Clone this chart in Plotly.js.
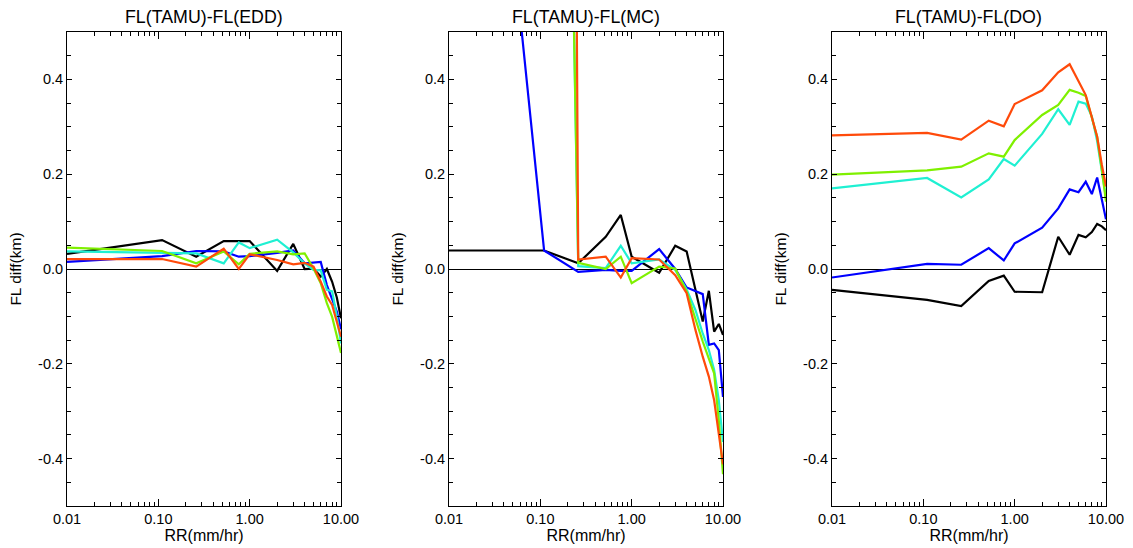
<!DOCTYPE html>
<html>
<head>
<meta charset="utf-8">
<script src="https://cdn.plot.ly/plotly-3.0.1.min.js"></script>
<style>html,body{margin:0;padding:0;background:#fff;}#chart{width:1133px;height:548px;}</style>
</head>
<body>
<div id="chart"></div>
<script>
// Rain rate bins (mm/hr)
const rr = [0.01, 0.11, 0.26, 0.52, 0.76, 1.0, 2.0, 3.0, 4.0, 5.0, 6.0, 7.0, 8.0, 9.0, 10.0];

const panelTitles = ['FL(TAMU)-FL(EDD)', 'FL(TAMU)-FL(MC)', 'FL(TAMU)-FL(DO)'];
const xTickVals = [0.01, 0.1, 1, 10];
const xTickText = ['0.01', '0.10', '1.00', '10.00'];
const xMinorVals = [0.02, 0.03, 0.04, 0.05, 0.06, 0.07, 0.08, 0.09,
                    0.2, 0.3, 0.4, 0.5, 0.6, 0.7, 0.8, 0.9,
                    2, 3, 4, 5, 6, 7, 8, 9];
const yTickVals = [-0.4, -0.2, 0, 0.2, 0.4];
const yTickText = ['-0.4', '-0.2', '0.0', '0.2', '0.4'];
const seriesColors = ['#000000', '#0000ff', '#1ff0d2', '#7ff000', '#ff4a0a'];

// Panel 1: FL(TAMU)-FL(EDD)
const edd_black  = [0.032, 0.061, 0.026, 0.059, 0.059, 0.059, -0.004, 0.053, 0.000, 0.001, -0.016, 0.000, -0.027, -0.060, -0.104];
const edd_blue   = [0.015, 0.027, 0.038, 0.037, 0.026, 0.027, 0.034, 0.039, 0.012, 0.013, 0.015, -0.034, -0.065, -0.090, -0.127];
const edd_cyan   = [0.037, 0.034, 0.033, 0.012, 0.056, 0.044, 0.062, 0.035, 0.012, -0.002, -0.003, -0.044, -0.047, -0.100, -0.157];
const edd_green  = [0.045, 0.038, 0.012, 0.037, 0.010, 0.032, 0.037, 0.031, 0.033, 0.001, -0.030, -0.072, -0.101, -0.140, -0.177];
const edd_orange = [0.021, 0.021, 0.005, 0.043, 0.000, 0.031, 0.019, 0.010, 0.013, 0.005, -0.027, -0.058, -0.076, -0.110, -0.143];

// Panel 2: FL(TAMU)-FL(MC)
const mc_black  = [0.039, 0.039, 0.012, 0.068, 0.114, 0.026, -0.008, 0.049, 0.037, -0.043, -0.111, -0.046, -0.132, -0.116, -0.139];
const mc_blue   = [2.0, 0.039, -0.006, -0.002, -0.004, -0.004, 0.042, 0.000, -0.039, -0.046, -0.053, -0.160, -0.157, -0.171, -0.270];
const mc_cyan   = [4.0, 4.0, 0.006, 0.002, 0.049, 0.012, 0.020, -0.002, -0.043, -0.087, -0.136, -0.171, -0.213, -0.277, -0.365];
const mc_green  = [4.0, 4.0, 0.013, 0.000, 0.026, -0.030, 0.005, 0.001, -0.048, -0.108, -0.153, -0.189, -0.220, -0.320, -0.433];
const mc_orange = [12.0, 12.0, 0.020, 0.026, -0.018, 0.023, 0.020, -0.013, -0.051, -0.129, -0.185, -0.227, -0.277, -0.347, -0.412];

// Panel 3: FL(TAMU)-FL(DO)
const do_black  = [-0.044, -0.065, -0.078, -0.025, -0.014, -0.048, -0.049, 0.068, 0.030, 0.072, 0.067, 0.078, 0.095, 0.090, 0.082];
const do_blue   = [-0.018, 0.011, 0.009, 0.044, 0.018, 0.054, 0.087, 0.128, 0.168, 0.162, 0.184, 0.158, 0.193, 0.150, 0.105];
const do_cyan   = [0.170, 0.192, 0.151, 0.189, 0.232, 0.218, 0.285, 0.337, 0.304, 0.353, 0.349, 0.322, 0.270, 0.210, 0.150];
const do_green  = [0.199, 0.208, 0.216, 0.244, 0.237, 0.272, 0.325, 0.346, 0.378, 0.372, 0.365, 0.320, 0.279, 0.210, 0.142];
const do_orange = [0.282, 0.287, 0.273, 0.313, 0.301, 0.348, 0.377, 0.415, 0.432, 0.396, 0.367, 0.320, 0.279, 0.220, 0.174];

const panels = [
  [edd_black, edd_blue, edd_cyan, edd_green, edd_orange],
  [mc_black, mc_blue, mc_cyan, mc_green, mc_orange],
  [do_black, do_blue, do_cyan, do_green, do_orange]
];

const W = 1133, H = 548;
const xDomains = [[67 / W, 341 / W], [449 / W, 723 / W], [832 / W, 1106 / W]];
const yDomain = [(H - 506) / H, (H - 32) / H];
const FONT = 'Liberation Sans, Arial, Helvetica, sans-serif';

const traces = [];
panels.forEach((series, p) => {
  const sfx = p === 0 ? '' : String(p + 1);
  series.forEach((ys, i) => {
    traces.push({
      x: rr, y: ys, type: 'scatter', mode: 'lines',
      xaxis: 'x' + sfx, yaxis: 'y' + sfx,
      line: {color: seriesColors[i], width: 2.2},
      showlegend: false, hoverinfo: 'skip'
    });
  });
});

const layout = {
  width: W, height: H,
  margin: {l: 0, r: 0, t: 0, b: 0},
  paper_bgcolor: '#fff', plot_bgcolor: '#fff',
  font: {family: FONT, color: '#000', size: 14},
  showlegend: false,
  annotations: []
};

panelTitles.forEach((t, p) => {
  const sfx = p === 0 ? '' : String(p + 1);
  layout['xaxis' + sfx] = {
    type: 'log', range: [-2, 1], domain: xDomains[p], anchor: 'y' + sfx,
    tickmode: 'array', tickvals: xTickVals, ticktext: xTickText,
    ticks: 'inside', ticklen: 7, tickwidth: 1, tickcolor: '#000',
    minor: {tickmode: 'array', tickvals: xMinorVals, ticks: 'inside', ticklen: 4, tickwidth: 1, tickcolor: '#000', showgrid: false},
    showline: true, linecolor: '#000', linewidth: 1, mirror: 'ticks',
    showgrid: false, zeroline: false,
    tickfont: {family: FONT, size: 14.5, color: '#000'},
    title: {text: 'RR(mm/hr)', font: {family: FONT, size: 16, color: '#000'}, standoff: 1}
  };
  layout['yaxis' + sfx] = {
    range: [-0.5, 0.5], domain: yDomain, anchor: 'x' + sfx,
    tickmode: 'array', tickvals: yTickVals, ticktext: yTickText,
    ticks: 'inside', ticklen: 5, tickwidth: 1, tickcolor: '#000',
    minor: {tickmode: 'linear', tick0: 0, dtick: 0.05, ticks: 'inside', ticklen: 4, tickwidth: 1, tickcolor: '#000', showgrid: false},
    showline: true, linecolor: '#000', linewidth: 1, mirror: 'ticks',
    showgrid: false, zeroline: true, zerolinecolor: '#000', zerolinewidth: 1,
    tickfont: {family: FONT, size: 14.5, color: '#000'},
    title: {text: 'FL diff(km)', font: {family: FONT, size: 15.5, color: '#000'}, standoff: 12}
  };
  layout.annotations.push({
    text: t, xref: 'paper', yref: 'paper',
    x: (xDomains[p][0] + xDomains[p][1]) / 2, y: (H - 17) / H,
    xanchor: 'center', yanchor: 'middle', showarrow: false,
    font: {family: FONT, size: 17.8, color: '#000'}
  });
});

Plotly.newPlot('chart', traces, layout, {staticPlot: true, displayModeBar: false});
</script>
</body>
</html>
